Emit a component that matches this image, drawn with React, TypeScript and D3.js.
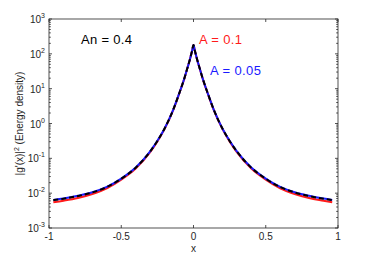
import React, { useEffect, useRef } from 'react'
import * as d3 from 'd3'

// sampled x positions along the curves
const xs = [-0.97, -0.9, -0.8, -0.7, -0.6, -0.5, -0.4, -0.3, -0.25, -0.2, -0.14, -0.1, -0.063, -0.04, -0.025, -0.01, 0,
  0.01, 0.025, 0.04, 0.063, 0.1, 0.14, 0.2, 0.25, 0.3, 0.4, 0.5, 0.6, 0.7, 0.8, 0.9, 0.96]

// |g'(x)|^2
const blackVals = [0.0063, 0.0069, 0.0083, 0.0105, 0.015, 0.026, 0.054, 0.158, 0.316, 0.72, 2.5, 7.1, 20, 42, 69, 120, 178,
  120, 69, 42, 20, 7.1, 2.5, 0.72, 0.316, 0.158, 0.054, 0.026, 0.015, 0.0105, 0.0083, 0.0069, 0.0063]
const blueVals = [0.0064, 0.007, 0.0084, 0.0106, 0.0151, 0.0262, 0.0543, 0.159, 0.318, 0.72, 2.5, 7.1, 20, 42, 69, 120, 178,
  120, 69, 42, 20, 7.1, 2.5, 0.72, 0.318, 0.159, 0.0543, 0.0262, 0.0151, 0.0106, 0.0084, 0.007, 0.0064]
const redVals = [0.0055, 0.0061, 0.0073, 0.0095, 0.0138, 0.0245, 0.051, 0.15, 0.305, 0.70, 2.46, 7.0, 19.8, 42, 69, 120, 178,
  120, 69, 42, 19.8, 7.0, 2.46, 0.70, 0.305, 0.15, 0.051, 0.0245, 0.0138, 0.0095, 0.0073, 0.0061, 0.0055]

const xTicks = [-1, -0.5, 0, 0.5, 1]
const xTickLabels = ['-1', '-0.5', '0', '0.5', '1']
const yExps = [-3, -2, -1, 0, 1, 2, 3]

const W = 374, H = 257
const L = 49, R = 338, T = 19, B = 228
const font = '"Liberation Sans", Arial, Helvetica, sans-serif'
const axisColor = '#262626'

export default function App() {
  const ref = useRef<SVGSVGElement | null>(null)

  useEffect(() => {
    const svg = d3.select(ref.current)
    svg.selectAll('*').remove()

    const x = d3.scaleLinear().domain([-1, 1]).range([L, R])
    const y = d3.scaleLog().domain([1e-3, 1e3]).range([B, T])

    const line = d3.line<[number, number]>()
      .x(d => x(d[0]))
      .y(d => y(d[1]))
      .curve(d3.curveMonotoneX)

    const series = [
      { vals: redVals, color: '#ff1a1a', dash: null },
      { vals: blueVals, color: '#1a1aff', dash: null },
      { vals: blackVals, color: '#000', dash: '5,3' },
    ]
    series.forEach(s => {
      svg.append('path')
        .attr('d', line(xs.map((v, i) => [v, s.vals[i]] as [number, number])))
        .attr('fill', 'none')
        .attr('stroke', s.color)
        .attr('stroke-width', 2)
        .attr('stroke-linejoin', 'round')
        .attr('stroke-dasharray', s.dash)
    })

    const g = svg.append('g').attr('stroke', axisColor).attr('stroke-width', 0.8)
    g.append('rect').attr('x', L).attr('y', T).attr('width', R - L).attr('height', B - T).attr('fill', 'none')

    // x ticks, inward on bottom and top
    xTicks.forEach((t, i) => {
      const px = x(t)
      g.append('line').attr('x1', px).attr('x2', px).attr('y1', B).attr('y2', B - 3)
      g.append('line').attr('x1', px).attr('x2', px).attr('y1', T).attr('y2', T + 3)
      svg.append('text').attr('x', px).attr('y', 239.5).attr('text-anchor', 'middle')
        .attr('font-family', font).attr('font-size', 10).attr('fill', axisColor).text(xTickLabels[i])
    })

    // y ticks, major and minor, inward on left and right
    yExps.forEach(e => {
      const py = y(Math.pow(10, e))
      g.append('line').attr('x1', L).attr('x2', L + 3).attr('y1', py).attr('y2', py)
      g.append('line').attr('x1', R).attr('x2', R - 3).attr('y1', py).attr('y2', py)
      if (e < 3) {
        for (let k = 2; k <= 9; k++) {
          const pm = y(k * Math.pow(10, e))
          g.append('line').attr('x1', L).attr('x2', L + 1.8).attr('y1', pm).attr('y2', pm)
          g.append('line').attr('x1', R).attr('x2', R - 1.8).attr('y1', pm).attr('y2', pm)
        }
      }
      const txt = svg.append('text').attr('x', L - 4).attr('y', py + 4).attr('text-anchor', 'end')
        .attr('font-family', font).attr('font-size', 10).attr('fill', axisColor)
      txt.append('tspan').text('10')
      txt.append('tspan').attr('dy', -5).attr('font-size', 7).text(String(e))
    })

    svg.append('text').attr('x', x(0)).attr('y', 252).attr('text-anchor', 'middle')
      .attr('font-family', font).attr('font-size', 10).attr('fill', axisColor).text('x')

    const yl = svg.append('text').attr('transform', `translate(23,${(T + B) / 2}) rotate(-90)`)
      .attr('text-anchor', 'middle').attr('font-family', font).attr('font-size', 10).attr('fill', axisColor)
    yl.append('tspan').text("|g'(x)|")
    yl.append('tspan').attr('dy', -4).attr('font-size', 7).text('2')
    yl.append('tspan').attr('dy', 4).text(' (Energy density)')

    svg.append('text').attr('x', 81).attr('y', 44).attr('font-family', font).attr('font-size', 13)
      .attr('textLength', 51).attr('fill', '#000').text('An = 0.4')
    svg.append('text').attr('x', 199).attr('y', 44).attr('font-family', font).attr('font-size', 13)
      .attr('textLength', 43).attr('fill', '#ff1a1a').text('A = 0.1')
    svg.append('text').attr('x', 210).attr('y', 75).attr('font-family', font).attr('font-size', 13)
      .attr('textLength', 51).attr('fill', '#1a1aff').text('A = 0.05')
  }, [])

  return (
    <svg ref={ref} width={W} height={H} style={{ position: 'absolute', left: 0, top: 0, background: '#fff' }} />
  )
}
